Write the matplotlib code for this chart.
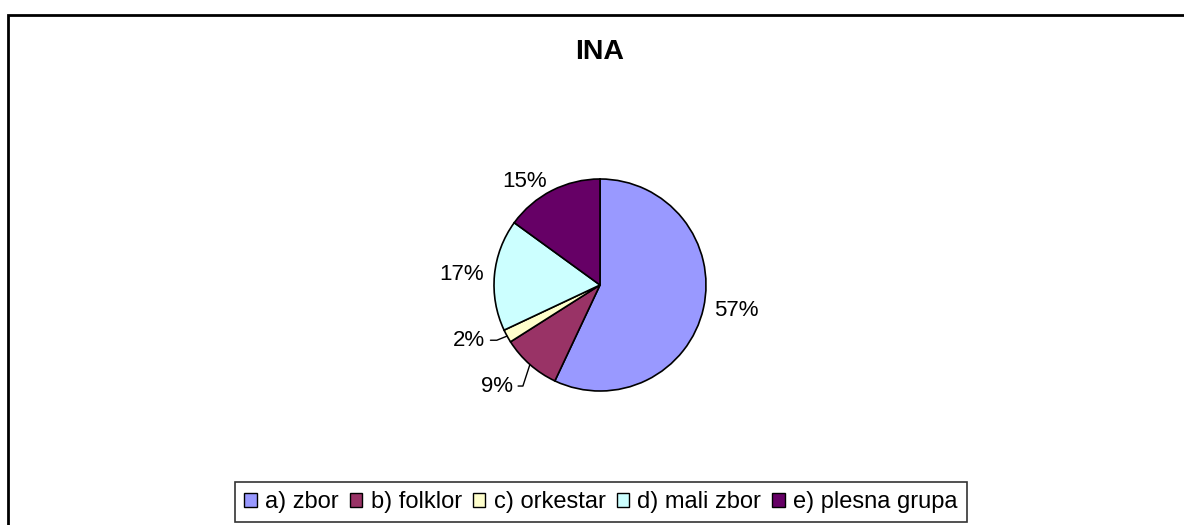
import matplotlib.pyplot as plt
from matplotlib.patches import Rectangle
import numpy as np

plt.rcParams['font.family'] = ['Liberation Sans', 'DejaVu Sans']

# data
categories = ['a) zbor', 'b) folklor', 'c) orkestar', 'd) mali zbor', 'e) plesna grupa']
values = [57, 9, 2, 17, 15]
colors = ['#9999FF', '#993366', '#FFFFCC', '#CCFFFF', '#660066']
label_dist = [1.1, None, None, 1.1, 1.1]
# small slices get a leader line; label offset from slice edge in points
leader_offset = [None, (-12.5, -15.5), (-16, -3), None, None]
leader_angle = [None, 72, 22, None, None]

W, H = 1184, 525
fig = plt.figure(figsize=(W / 100, H / 100), dpi=100)

# chart frame (only top and left edges are in view)
fig.patches.append(Rectangle((8 / W, -0.1), 2.0, (H - 15) / H + 0.1,
                             transform=fig.transFigure, fill=False,
                             edgecolor='black', linewidth=2))

fig.text(600 / W, 1 - 52 / H, 'INA', ha='center', va='center',
         fontsize=20.5, fontweight='bold')

cx, cy, r = 600, 285, 106
ax = fig.add_axes([(cx - r) / W, (H - cy - r) / H, 2 * r / W, 2 * r / H])
wedges, _ = ax.pie(values, colors=colors, startangle=90, counterclock=False,
                   radius=1.0, wedgeprops=dict(edgecolor='black', linewidth=1.2))
ax.set_xlim(-1, 1)
ax.set_ylim(-1, 1)
ax.set_aspect('equal')
ax.axis('off')

total = sum(values)
for w, v, d, off, la in zip(wedges, values, label_dist, leader_offset, leader_angle):
    ang = np.deg2rad((w.theta1 + w.theta2) / 2)
    x, y = np.cos(ang), np.sin(ang)
    txt = f'{round(100 * v / total)}%'
    if off is not None:
        ax.annotate(txt, xy=(x, y), xytext=off, textcoords='offset points',
                    ha='right', va='center', fontsize=16, annotation_clip=False,
                    arrowprops=dict(arrowstyle='-', color='black', lw=1,
                                    shrinkA=2, shrinkB=0,
                                    connectionstyle=f'angle,angleA=0,angleB={la},rad=0'))
    else:
        ha = 'left' if x > 0 else 'right'
        ax.text(d * x, d * y, txt, ha=ha, va='center', fontsize=16)

leg = fig.legend(wedges, categories, loc='center', bbox_to_anchor=(601 / W, 1 - 502 / H),
                 ncol=5, fontsize=17, frameon=True, fancybox=False,
                 handlelength=0.52, handleheight=0.52, handletextpad=0.35,
                 columnspacing=0.48, borderpad=0.4, borderaxespad=0)
leg.get_frame().set_edgecolor('black')
leg.get_frame().set_linewidth(1.2)
for h in leg.legend_handles:
    h.set_edgecolor('black')
    h.set_linewidth(1)

fig.savefig('out.png', dpi=100)
